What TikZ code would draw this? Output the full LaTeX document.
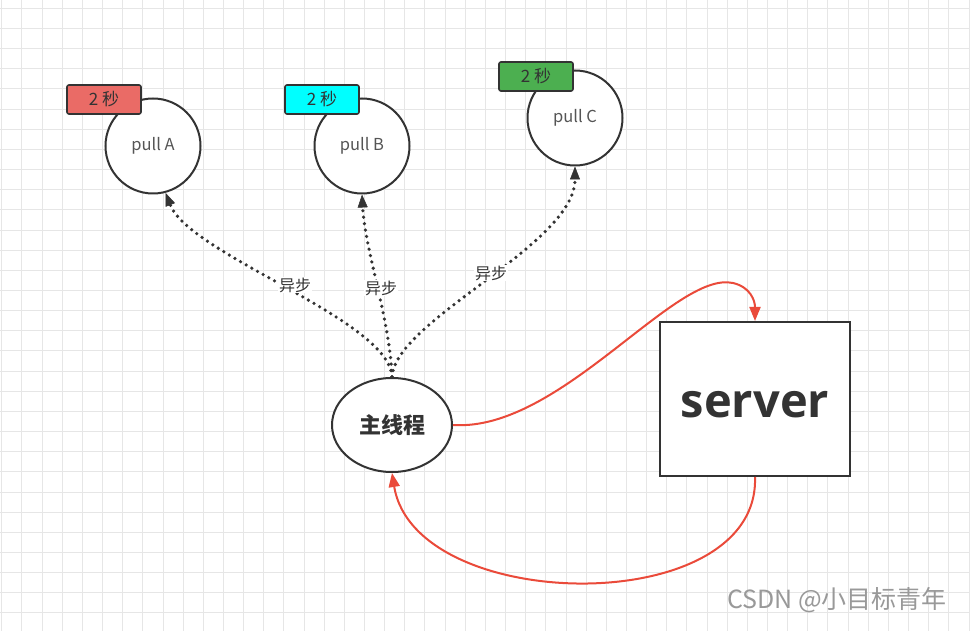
\documentclass[tikz,border=0pt]{standalone}
\usepackage{fontspec}
\setmainfont{Noto Sans CJK SC}
\newfontfamily\srvfont{Open Sans}
\usetikzlibrary{arrows.meta,shapes.geometric}
\definecolor{gridc}{HTML}{E6E6E6}
\definecolor{ink}{HTML}{333333}
\definecolor{txtg}{HTML}{555555}
\definecolor{tagred}{HTML}{EA6B66}
\definecolor{tagcyan}{HTML}{00FFFF}
\definecolor{taggreen}{HTML}{4CAF50}
\definecolor{redline}{HTML}{EA4A3A}
\tikzset{
  gridline/.style={draw=gridc, line width=0.8},
  pullnode/.style={circle, draw=ink, line width=2, fill=white, minimum size=95, inner sep=0,
    text=txtg, font=\fontsize{16.5}{19}\selectfont},
  tagnode/.style={rectangle, rounded corners=2, draw=ink, line width=1.6, minimum width=74,
    minimum height=29, inner sep=0, text=ink, font=\fontsize{17}{19}\selectfont},
  mainnode/.style={ellipse, draw=ink, line width=2, fill=white, minimum width=120,
    minimum height=94, inner sep=0, text=ink, font=\fontsize{22}{26}\selectfont\bfseries},
  srvnode/.style={rectangle, draw=ink, line width=2, fill=white, minimum width=190,
    minimum height=154, inner sep=0},
  srvtext/.style={inner sep=0, text=ink, font=\srvfont\fontsize{47}{56}\selectfont\bfseries},
  asyncedge/.style={draw=ink, line width=3.6, line cap=round, dash pattern=on 0pt off 6.5pt,
    -{Triangle[length=13,width=10,line width=0.5]}},
  rededge/.style={draw=redline, line width=2, -{Triangle[length=14,width=11]}},
  lbl/.style={fill=white, inner sep=1, text=ink, font=\fontsize{16}{18}\selectfont},
  wm/.style={text=black!40, font=\fontsize{25}{28}\selectfont, inner sep=0}
}
\begin{document}
\begin{tikzpicture}[x=1pt,y=-1pt]
\fill[white] (0,0) rectangle (970,631);
\useasboundingbox (0,0) rectangle (970,631);
\foreach \i in {0,...,48} \draw[gridline] ({1.7+20.15*\i},0) -- ({1.7+20.15*\i},631);
\foreach \j in {0,...,31} \draw[gridline] (0,{8.3+20.15*\j}) -- (970,{8.3+20.15*\j});

\node[pullnode] (pa) at (153,146) {pull A};
\node[pullnode] (pb) at (362,146) {pull B};
\node[pullnode] (pc) at (575,118) {pull C};
\node[tagnode, fill=tagred] (ta) at (104,99.5) {2 秒};
\node[tagnode, fill=tagcyan] (tb) at (322,99.5) {2 秒};
\node[tagnode, fill=taggreen] (tc) at (536,76.5) {2 秒};

\node[mainnode] (m) at (392,425) {主线程};
\node[srvnode] (s) at (755,399) {};
\node[srvtext] (st) at (755,405) {server};

\draw[asyncedge] (m.north) .. controls (390,320) and (190,255) .. (pa.-75);
\draw[asyncedge] (m.north) .. controls (390,320) and (365,250) .. (pb.south);
\draw[asyncedge] (m.north) .. controls (395,320) and (575,245) .. (pc.south);

\node[lbl] (la) at (295,285) {异步};
\node[lbl] (lb) at (381,288) {异步};
\node[lbl] (lc) at (491,273) {异步};

\draw[rededge] (m.east) .. controls (560,432) and (675,270) .. (733,283)
  .. controls (750,287) and (755,300) .. (s.north);
\draw[rededge] (s.south) .. controls (760,620) and (415,615) .. (m.south);

\node[wm] (w) at (837,600) {CSDN @小目标青年};
\end{tikzpicture}
\end{document}
